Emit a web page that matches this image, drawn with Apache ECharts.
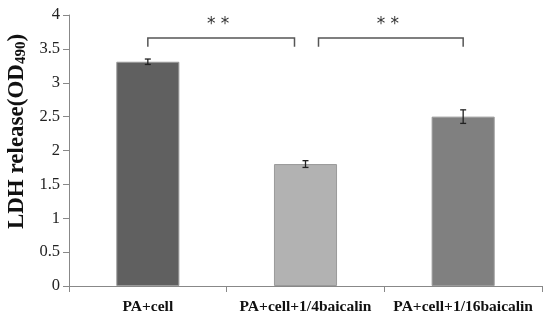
<!DOCTYPE html>
<html>
<head>
<meta charset="utf-8">
<script src="https://cdn.jsdelivr.net/npm/echarts@6/dist/echarts.min.js"></script>
<style>html,body{margin:0;padding:0;background:#fff;}#c{width:550px;height:322px;}</style>
</head>
<body>
<div id="c"></div>
<script>
var categories = ['PA+cell', 'PA+cell+1/4baicalin', 'PA+cell+1/16baicalin'];
var values = [3.31, 1.80, 2.50];
var errors = [0.04, 0.05, 0.10];
var barColors = ['#606060', '#b2b2b2', '#808080'];
var yTicks = [0, 0.5, 1, 1.5, 2, 2.5, 3, 3.5, 4];
// significance brackets: [fromIndex, toIndex, level, dropLevel, label]
var brackets = [[0, 1, 3.66, 3.53, '* *'], [1, 2, 3.66, 3.53, '* *']];

var chart = echarts.init(document.getElementById('c'));
var serif = '"Liberation Serif", "Times New Roman", serif';

chart.setOption({
  animation: false,
  grid: {left: 69, right: 8, top: 15, bottom: 36, containLabel: false, outerBoundsMode: 'none'},
  xAxis: {
    type: 'category',
    data: categories,
    axisLine: {lineStyle: {color: '#888', width: 1}},
    axisTick: {show: true, alignWithLabel: false, length: 6, lineStyle: {color: '#888'}},
    axisLabel: {interval: 0, color: '#111', fontFamily: serif, fontWeight: 'bold', fontSize: 15.5, margin: 13}
  },
  yAxis: {
    type: 'value',
    min: 0, max: 4, interval: 0.5,
    splitLine: {show: false},
    axisLine: {show: true, lineStyle: {color: '#888', width: 1}},
    axisTick: {show: true, length: 6, lineStyle: {color: '#888'}},
    axisLabel: {color: '#222', fontFamily: serif, fontSize: 16.5, margin: 9,
      formatter: function (v) { return yTicks.indexOf(v) >= 0 ? String(v) : ''; }},
    name: '{a|LDH release(OD}{b|490}{a|)}',
    nameLocation: 'middle',
    nameGap: 38,
    nameRotate: 90,
    nameTextStyle: {
      padding: [0, 0, 0, 38],
      rich: {
        a: {fontFamily: serif, fontWeight: 'bold', fontSize: 23, color: '#111', verticalAlign: 'bottom', lineHeight: 25},
        b: {fontFamily: serif, fontWeight: 'bold', fontSize: 15, color: '#111', verticalAlign: 'bottom', lineHeight: 20}
      }
    }
  },
  series: [
    {
      type: 'bar',
      barWidth: '40%',
      data: values.map(function (v, i) {
        return {value: v, itemStyle: {color: barColors[i], borderColor: '#9a9a9a', borderWidth: 1}};
      })
    },
    {
      type: 'custom',
      data: values.map(function (v, i) { return [i, v, errors[i]]; }),
      z: 5,
      renderItem: function (params, api) {
        var x = api.value(0), v = api.value(1), e = api.value(2);
        var hi = api.coord([x, v + e]), lo = api.coord([x, v - e]);
        var hw = 3;
        var st = {stroke: '#222', lineWidth: 1.3};
        return {type: 'group', children: [
          {type: 'line', shape: {x1: hi[0], y1: hi[1], x2: lo[0], y2: lo[1]}, style: st},
          {type: 'line', shape: {x1: hi[0] - hw, y1: hi[1], x2: hi[0] + hw, y2: hi[1]}, style: st},
          {type: 'line', shape: {x1: lo[0] - hw, y1: lo[1], x2: lo[0] + hw, y2: lo[1]}, style: st}
        ]};
      }
    },
    {
      type: 'custom',
      data: brackets.map(function (b) { return [b[0], b[1], b[2], b[3], b[4]]; }),
      z: 5,
      renderItem: function (params, api) {
        var b = brackets[params.dataIndex];
        var a = api.coord([b[0], b[2]]), c = api.coord([b[1], b[2]]);
        var d = api.coord([b[0], b[3]]);
        var x1 = a[0] + (b[0] === 1 ? 13 : 0);
        var x2 = c[0] - (b[1] === 1 ? 11 : 0);
        var y = a[1], yd = d[1];
        var st = {stroke: '#555', lineWidth: 1.5, fill: null};
        return {type: 'group', children: [
          {type: 'polyline', shape: {points: [[x1, yd], [x1, y], [x2, y], [x2, yd]]}, style: st},
          {type: 'text', style: {text: b[4], x: (x1 + x2) / 2 - 3, y: y - 13, align: 'center', verticalAlign: 'middle',
            fontFamily: '"DejaVu Sans", sans-serif', fontSize: 17, fill: '#333'}}
        ]};
      }
    }
  ]
});
</script>
</body>
</html>
